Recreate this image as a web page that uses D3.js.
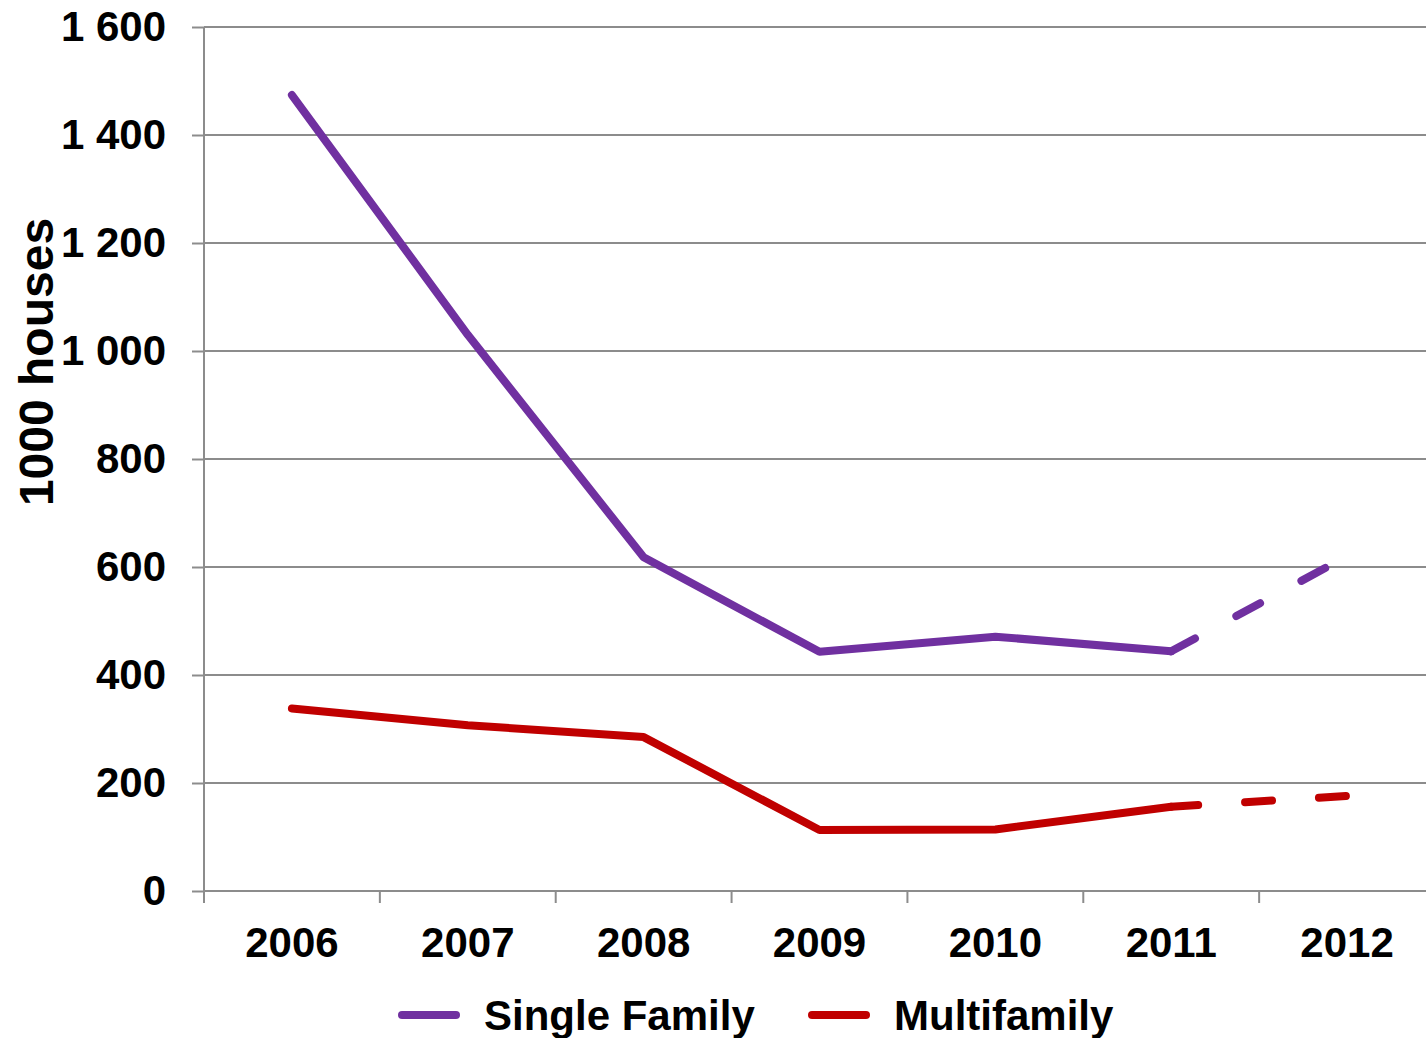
<!DOCTYPE html>
<html>
<head>
<meta charset="utf-8">
<script src="https://cdn.jsdelivr.net/npm/d3@7"></script>
<style>
  html, body { margin: 0; padding: 0; background: #fff; }
  svg { display: block; font-family: "Liberation Sans", Arial, sans-serif; font-weight: bold; }
</style>
</head>
<body>
<svg id="chart" width="1426" height="1038"></svg>
<script>
// Housing starts, thousands of units; 2012 is a forecast (drawn dashed)
const years = ["2006", "2007", "2008", "2009", "2010", "2011", "2012"];
const singleFamily = [1474, 1030, 618, 443, 471, 444, 620];
const multifamily = [338, 307, 285, 113, 114, 156, 176];
const yTicks = [0, 200, 400, 600, 800, 1000, 1200, 1400, 1600];
const forecastFrom = 5; // index where the dashed forecast starts

const seriesNames = ["Single Family", "Multifamily"];
const seriesColors = ["#7030A0", "#C00000"];

const svg = d3.select("#chart");

const x = d3.scaleBand().domain(years).range([204, 1435]);
const y = d3.scaleLinear().domain([0, 1600]).range([891, 27]);

const fmt = d3.formatLocale({ decimal: ".", thousands: " ", grouping: [3], currency: ["", ""] }).format(",");

// horizontal gridlines
svg.append("g")
  .selectAll("line")
  .data(yTicks.filter(d => d > 0))
  .join("line")
  .attr("x1", x.range()[0]).attr("x2", x.range()[1])
  .attr("y1", d => y(d)).attr("y2", d => y(d))
  .attr("stroke", "#8c8c8c").attr("stroke-width", 2);

// y axis
const yAxis = svg.append("g")
  .attr("transform", `translate(${x.range()[0]},0)`)
  .call(d3.axisLeft(y).tickValues(yTicks).tickFormat(fmt).tickSize(12).tickPadding(26));
yAxis.select(".domain").remove();
yAxis.append("line")
  .attr("x1", 0).attr("x2", 0)
  .attr("y1", y(1600)).attr("y2", y(0) + 12)
  .attr("stroke", "#8c8c8c").attr("stroke-width", 2);
yAxis.selectAll(".tick line").attr("stroke", "#8c8c8c").attr("stroke-width", 2);
yAxis.selectAll(".tick text")
  .attr("fill", "#000").style("font-size", "42px").style("font-weight", "bold")
  .style("font-family", "'Liberation Sans', Arial, sans-serif");

// x axis: ticks on category boundaries
const xAxis = svg.append("g").attr("transform", `translate(0,${y(0)})`);
xAxis.append("line")
  .attr("x1", x.range()[0]).attr("x2", x.range()[1])
  .attr("stroke", "#8c8c8c").attr("stroke-width", 2);
xAxis.selectAll("line.tk")
  .data(years)
  .join("line")
  .attr("class", "tk")
  .attr("x1", d => x(d)).attr("x2", d => x(d))
  .attr("y1", 0).attr("y2", 12)
  .attr("stroke", "#8c8c8c").attr("stroke-width", 2);
xAxis.selectAll("text")
  .data(years)
  .join("text")
  .attr("x", d => x(d) + x.bandwidth() / 2)
  .attr("y", 66)
  .attr("text-anchor", "middle")
  .style("font-size", "42px")
  .text(d => d);

// y axis title
svg.append("text")
  .attr("transform", `translate(53,362) rotate(-90)`)
  .attr("text-anchor", "middle")
  .style("font-size", "48px")
  .text("1000 houses");

// series lines: solid history, dashed forecast
const line = d3.line()
  .x(d => x(d.year) + x.bandwidth() / 2)
  .y(d => y(d.value));

[singleFamily, multifamily].forEach((vals, i) => {
  const pts = vals.map((v, j) => ({ year: years[j], value: v }));
  svg.append("path")
    .attr("d", line(pts.slice(0, forecastFrom + 1)))
    .attr("fill", "none")
    .attr("stroke", seriesColors[i])
    .attr("stroke-width", 8)
    .attr("stroke-linecap", "round")
    .attr("stroke-linejoin", "round");
  svg.append("path")
    .attr("d", line(pts.slice(forecastFrom)))
    .attr("fill", "none")
    .attr("stroke", seriesColors[i])
    .attr("stroke-width", 8)
    .attr("stroke-linecap", "round")
    .attr("stroke-dasharray", "27,47");
});

// legend
const legendX = [402, 812];
const legend = svg.append("g");
seriesNames.forEach((name, i) => {
  legend.append("line")
    .attr("x1", legendX[i]).attr("x2", legendX[i] + 54)
    .attr("y1", 1015).attr("y2", 1015)
    .attr("stroke", seriesColors[i])
    .attr("stroke-width", 8)
    .attr("stroke-linecap", "round");
  legend.append("text")
    .attr("x", legendX[i] + 82)
    .attr("y", 1030)
    .style("font-size", "42px")
    .text(name);
});
</script>
</body>
</html>
